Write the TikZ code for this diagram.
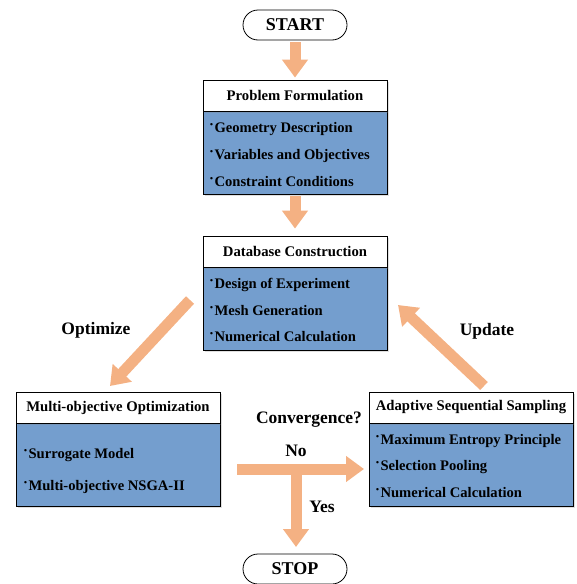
\documentclass[tikz,border=0pt]{standalone}
\usepackage{fontspec}
\setmainfont{Liberation Serif}
\usetikzlibrary{arrows.meta,shadows}
\definecolor{bodyblue}{RGB}{116,158,206}
\definecolor{arrorange}{RGB}{244,177,131}
\newcommand{\bul}{\raisebox{0.45ex}{·}\kern0.5pt}
\tikzset{
 pill/.style={draw, line width=0.8pt, rounded corners=15pt, minimum width=104pt, minimum height=30pt, font=\bfseries\fontsize{18}{20}\selectfont, fill=white, inner sep=0},
 hdr/.style={draw, line width=0.8pt, fill=white, font=\bfseries\fontsize{14.7}{17}\selectfont, inner sep=0, drop shadow={opacity=0.25, shadow xshift=1.5pt, shadow yshift=-1.5pt}},
 bodybox/.style={draw, line width=0.8pt, fill=bodyblue, inner sep=0, drop shadow={opacity=0.25, shadow xshift=1.5pt, shadow yshift=-1.5pt}},
 item/.style={anchor=west, font=\bfseries\fontsize{14.6}{17}\selectfont, inner sep=0},
 bigarrow/.style={draw=arrorange, line width=11pt, -{Triangle[length=18pt,width=25pt]}},
 lbl/.style={font=\bfseries\fontsize{17.5}{20}\selectfont, inner sep=0},
}
\begin{document}
\begin{tikzpicture}[x=1pt,y=-1pt]
\useasboundingbox (0,0) rectangle (576,584);
% start / stop
\node[pill] (start) at (295,25) {START};
\node[pill] (stop) at (295,569) {STOP};
% Problem Formulation
\node[bodybox, minimum width=184pt, minimum height=83pt] (pfb) at (295,152.5) {};
\node[hdr, minimum width=184pt, minimum height=31pt] (pfh) at (295,95.5) {Problem Formulation};
\node[item] (pf1) at (209,129) {\bul Geometry Description};
\node[item] (pf2) at (209,156) {\bul Variables and Objectives};
\node[item] (pf3) at (209,182) {\bul Constraint Conditions};
% Database Construction
\node[bodybox, minimum width=184pt, minimum height=83pt] (dbb) at (295,308.5) {};
\node[hdr, minimum width=184pt, minimum height=31pt] (dbh) at (295,251.5) {Database Construction};
\node[item] (db1) at (209,285) {\bul Design of Experiment};
\node[item] (db2) at (209,311) {\bul Mesh Generation};
\node[item] (db3) at (209,337) {\bul Numerical Calculation};
% Multi-objective Optimization
\node[bodybox, minimum width=204pt, minimum height=83pt] (mob) at (118,464.5) {};
\node[hdr, minimum width=204pt, minimum height=31pt] (moh) at (118,407.5) {Multi-objective Optimization};
\node[item] (mo1) at (23,455) {\bul Surrogate Model};
\node[item] (mo2) at (23,487) {\bul Multi-objective NSGA-II};
% Adaptive Sequential Sampling
\node[bodybox, minimum width=204pt, minimum height=83pt] (asb) at (471,464.5) {};
\node[hdr, minimum width=204pt, minimum height=31pt] (ash) at (471,407.5) {Adaptive Sequential Sampling};
\node[item] (as1) at (375,441) {\bul Maximum Entropy Principle};
\node[item] (as2) at (375,467) {\bul Selection Pooling};
\node[item] (as3) at (375,493) {\bul Numerical Calculation};
% labels
\node[lbl] (lopt) at (96,330) {Optimize};
\node[lbl] (lupd) at (487,331) {Update};
\node[lbl] (lconv) at (309,420) {Convergence?};
\node[lbl] (lno) at (296,451) {No};
\node[lbl] (lyes) at (322,507) {Yes};
% connector coordinates
\coordinate (optS) at (190,300);
\coordinate (optE) at (110,386);
\coordinate (updS) at (484,386);
\coordinate (updE) at (398,305);
\coordinate (convS) at (237,469);
\coordinate (convJ) at (296,469);
\coordinate (convE) at (364,469);
\coordinate (yesE) at (296,547);
% arrows
\draw[bigarrow, shorten <=2pt, shorten >=2pt] (start.south) -- (pfh.north);
\draw[bigarrow, shorten <=2pt, shorten >=7pt] (pfb.south) -- (dbh.north);
\draw[bigarrow] (optS) -- (optE);
\draw[bigarrow] (updS) -- (updE);
\draw[bigarrow] (convS) -- (convE);
\draw[draw=arrorange, line width=11pt, -{Triangle[length=18pt,width=25pt]}] ([yshift=-5.5pt]convJ) -- (yesE);
\end{tikzpicture}
\end{document}
